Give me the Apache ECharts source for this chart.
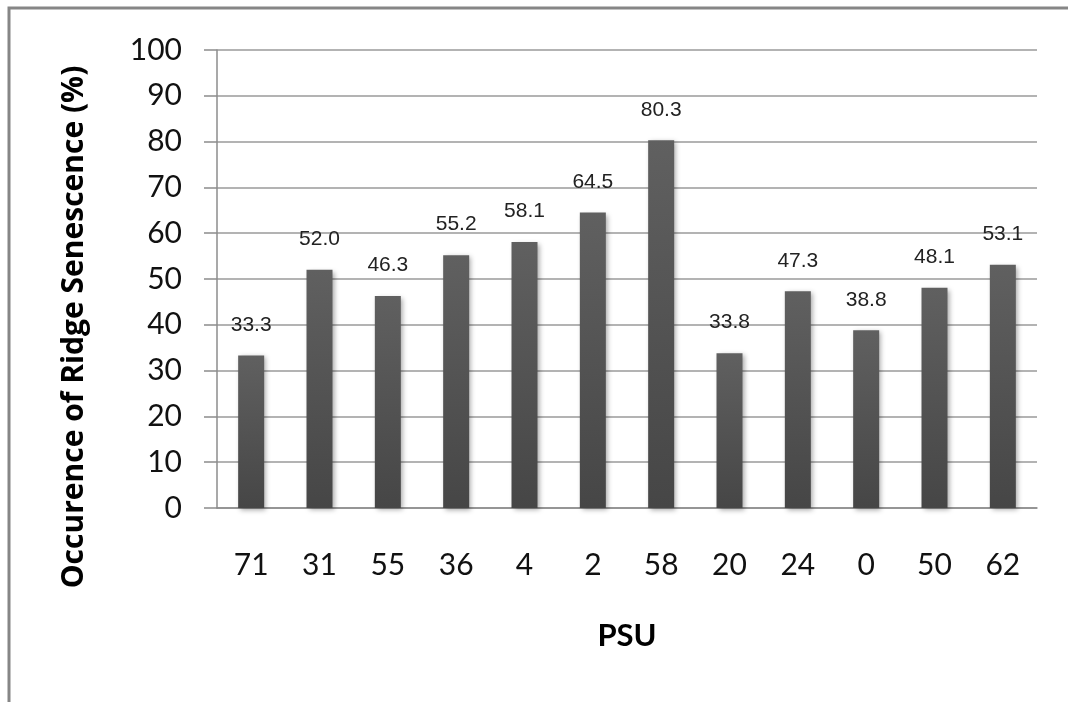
<!DOCTYPE html>
<html>
<head>
<meta charset="utf-8">
<script src="https://cdn.jsdelivr.net/npm/echarts@6/dist/echarts.min.js"></script>
<style>
html,body{margin:0;padding:0;background:#fff;}
#chart{width:1068px;height:702px;}
</style>
</head>
<body>
<div id="chart"></div>
<script>
const categories = ['71','31','55','36','4','2','58','20','24','0','50','62'];
const values = [33.3, 52.0, 46.3, 55.2, 58.1, 64.5, 80.3, 33.8, 47.3, 38.8, 48.1, 53.1];
const yTicks = {min: 0, max: 100, interval: 10};
const yTitle = 'Occurence of Ridge Senescence (%)';
const xTitle = 'PSU';

const chart = echarts.init(document.getElementById('chart'));
chart.setOption({
  animation: false,
  backgroundColor: '#fff',
  graphic: [{
    type: 'rect',
    shape: {x: 9, y: 8, width: 1200, height: 900},
    style: {fill: 'none', stroke: '#868686', lineWidth: 3},
    silent: true
  }],
  grid: {left: 217, top: 50, right: 31, bottom: 194},
  xAxis: {
    type: 'category',
    data: categories,
    name: xTitle,
    nameLocation: 'middle',
    nameGap: 112,
    nameTextStyle: {fontFamily: 'Lato', fontWeight: 'bold', fontSize: 31, color: '#000'},
    axisLine: {lineStyle: {color: '#8c8c8c', width: 1.5}},
    axisTick: {show: false},
    axisLabel: {fontFamily: 'Lato', fontSize: 30, color: '#111', margin: 42}
  },
  yAxis: {
    type: 'value',
    min: yTicks.min, max: yTicks.max, interval: yTicks.interval,
    name: yTitle,
    nameLocation: 'middle',
    nameGap: 128,
    nameRotate: 90,
    nameTextStyle: {fontFamily: 'Open Sans', fontWeight: 'bold', fontSize: 30, color: '#000', padding: [0, 96, 0, 0]},
    axisLine: {show: true, lineStyle: {color: '#8c8c8c', width: 1.5}},
    axisTick: {show: true, length: 13, lineStyle: {color: '#8c8c8c', width: 1.5}},
    axisLabel: {fontFamily: 'Lato', fontSize: 30, color: '#111', margin: 35},
    splitLine: {show: true, lineStyle: {color: '#9a9a9a', width: 1.5}}
  },
  series: [{
    type: 'bar',
    data: values,
    barWidth: 26,
    itemStyle: {
      color: new echarts.graphic.LinearGradient(0, 0, 0, 1, [
        {offset: 0, color: '#606060'},
        {offset: 1, color: '#464646'}
      ]),
      shadowBlur: 5,
      shadowColor: 'rgba(0,0,0,0.35)',
      shadowOffsetX: 2,
      shadowOffsetY: 2
    },
    label: {
      show: true,
      position: 'top',
      distance: 20,
      fontFamily: 'Liberation Sans',
      fontSize: 21,
      color: '#222',
      formatter: p => p.value.toFixed(1)
    }
  }]
});
</script>
</body>
</html>
